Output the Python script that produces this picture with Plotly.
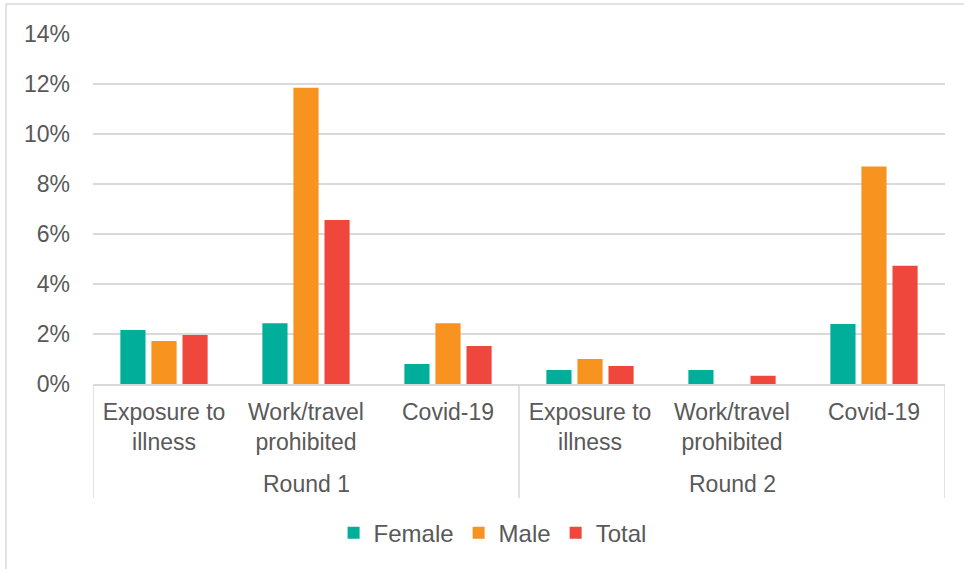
import plotly.graph_objects as go

# Survey rounds and reasons (two-level x axis)
round_names = ["Round 1", "Round 2"]
reason_labels = ["Exposure to<br>illness", "Work/travel<br>prohibited", "Covid-19"]

# One category per (round, reason) pair; the reason text is shown as tick label
categories = [f"{r} · {lab}" for r in round_names for lab in reason_labels]
tick_text = [lab for _ in round_names for lab in reason_labels]

# Share of respondents (%) by sex
female = [2.16, 2.43, 0.80, 0.56, 0.56, 2.40]
male = [1.72, 11.85, 2.43, 1.00, 0.00, 8.70]
total = [1.96, 6.56, 1.52, 0.72, 0.33, 4.73]

y_ticks = [0, 2, 4, 6, 8, 10, 12, 14]
y_labels = [f"{v}%" for v in y_ticks]

series = [
    ("Female", female, "#00AE99"),
    ("Male", male, "#F7931E"),
    ("Total", total, "#F0473C"),
]

font_family = "Liberation Sans, Arial, sans-serif"
text_color = "#595959"
rule_color = "#D9D9D9"

fig = go.Figure()
for name, vals, color in series:
    fig.add_trace(go.Bar(
        name=name,
        x=categories,
        y=vals,
        marker=dict(color=color, line=dict(width=0)),
    ))

n_per_round = len(reason_labels)
shapes = []
annotations = []

# Vertical dividers framing each round's group of categories
for k in range(len(round_names) + 1):
    xpos = k * n_per_round - 0.5
    shapes.append(dict(
        type="line", xref="x", yref="paper",
        x0=xpos, x1=xpos, y0=0, y1=-0.3257,
        line=dict(color=rule_color, width=1.5),
    ))

# Round names centred under their categories
for k, rname in enumerate(round_names):
    annotations.append(dict(
        text=rname, xref="x", yref="paper",
        x=k * n_per_round + (n_per_round - 1) / 2, y=-0.2857,
        xanchor="center", yanchor="middle", showarrow=False,
        font=dict(size=23, color=text_color, family=font_family),
    ))

# Outer chart frame
shapes.append(dict(
    type="rect", xref="paper", yref="paper",
    x0=-0.1021, x1=1.04, y0=-0.56, y1=1.0857,
    line=dict(color=rule_color, width=1.5),
    fillcolor="rgba(0,0,0,0)",
    layer="below",
))

fig.update_layout(
    width=964,
    height=569,
    margin=dict(l=93, r=19, t=34, b=185),
    paper_bgcolor="white",
    plot_bgcolor="white",
    barmode="group",
    bargap=0.344,
    bargroupgap=0.19,
    font=dict(family=font_family, size=23, color=text_color),
    showlegend=True,
    legend=dict(
        orientation="h",
        x=0.469, xanchor="center",
        y=-0.426, yanchor="middle",
        font=dict(size=24, color=text_color),
        itemwidth=30,
        traceorder="normal",
    ),
    xaxis=dict(
        type="category",
        categoryorder="array",
        categoryarray=categories,
        tickvals=categories,
        ticktext=tick_text,
        range=[-0.5, len(categories) - 0.5],
        showline=True,
        linecolor=rule_color,
        linewidth=1.5,
        showgrid=False,
        ticks="",
        ticklabelstandoff=7,
        tickfont=dict(size=23, color=text_color),
    ),
    yaxis=dict(
        range=[0, 14],
        tickvals=y_ticks,
        ticktext=y_labels,
        showgrid=True,
        gridcolor=rule_color,
        gridwidth=1.5,
        zeroline=False,
        showline=False,
        ticks="",
        ticklabelstandoff=22,
        tickfont=dict(size=23, color=text_color),
    ),
    shapes=shapes,
    annotations=annotations,
)

fig.write_html("out.html")
